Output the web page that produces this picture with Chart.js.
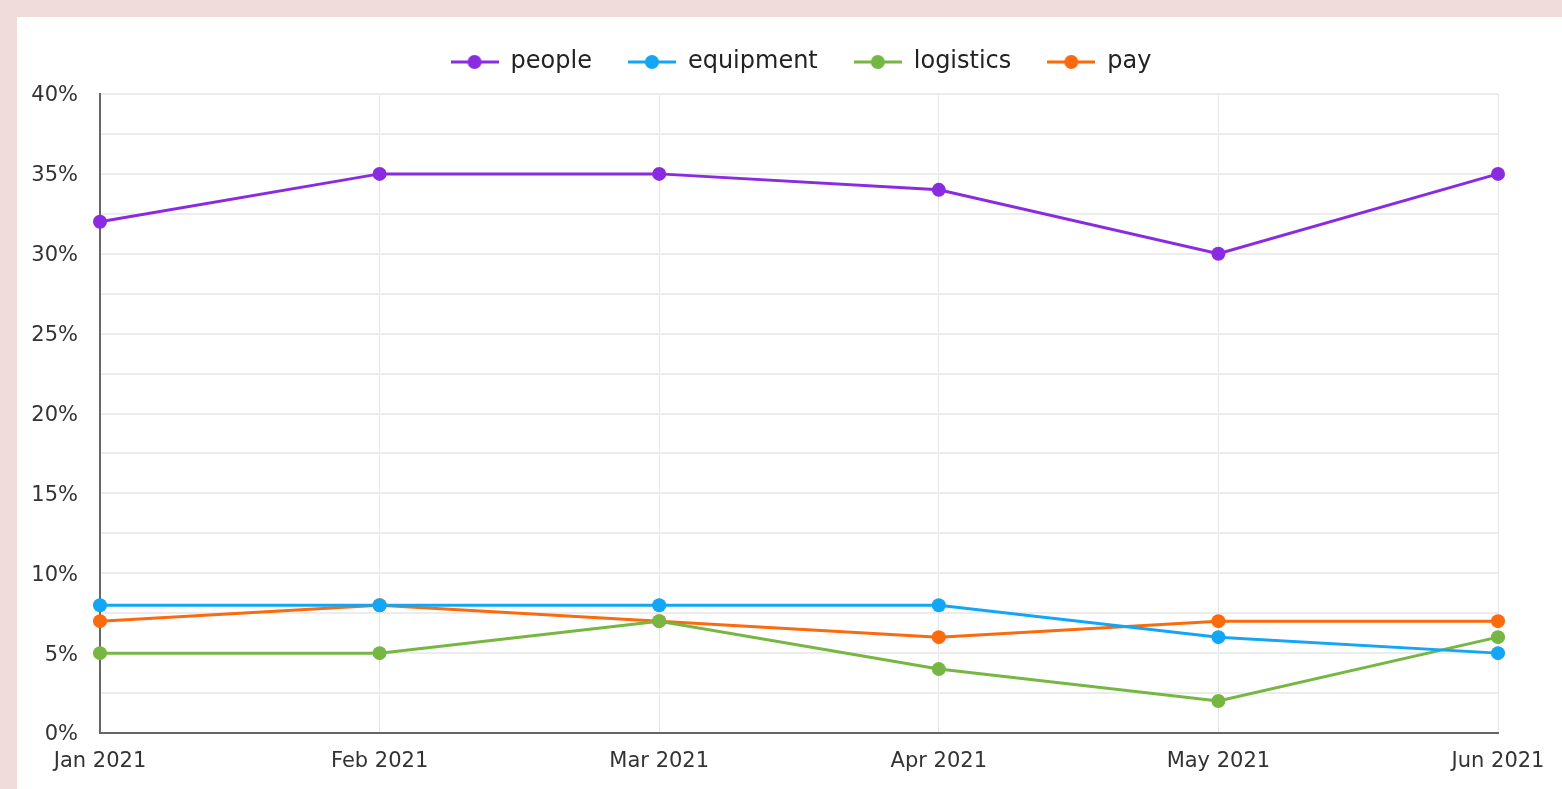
<!DOCTYPE html>
<html>
<head>
<meta charset="utf-8">
<script src="https://cdn.jsdelivr.net/npm/chart.js@4"></script>
<style>
  html, body { margin: 0; padding: 0; background: #f0dcd9; width: 1562px; height: 789px; overflow: hidden; }
  #card { position: absolute; left: 17px; top: 17px; width: 1545px; height: 772px; background: #fff; }
  #card canvas { display: block; }
</style>
</head>
<body>
<div id="card"><canvas id="trendChart" width="1545" height="772"></canvas></div>
<script>
const months = ['Jan 2021', 'Feb 2021', 'Mar 2021', 'Apr 2021', 'May 2021', 'Jun 2021'];
const people    = [32, 35, 35, 34, 30, 35];
const equipment = [8, 8, 8, 8, 6, 5];
const logistics = [5, 5, 7, 4, 2, 6];
const pay       = [7, 8, 7, 6, 7, 7];
const seriesNames  = ['people', 'equipment', 'logistics', 'pay'];
const seriesColors = ['#8a2be2', '#12a6f5', '#76b642', '#fb6a0c'];

// little line-with-dot marker for the legend
function legendMarker(color) {
  const c = document.createElement('canvas');
  c.width = 48; c.height = 16;
  const g = c.getContext('2d');
  g.strokeStyle = color;
  g.lineWidth = 3;
  g.beginPath(); g.moveTo(0, 8); g.lineTo(48, 8); g.stroke();
  g.fillStyle = color;
  g.beginPath(); g.arc(24, 8, 7, 0, Math.PI * 2); g.fill();
  return c;
}

const values = [people, equipment, logistics, pay];
const datasets = seriesNames.map((name, i) => ({
  label: name,
  data: values[i],
  borderColor: seriesColors[i],
  backgroundColor: seriesColors[i],
  borderWidth: 3,
  pointRadius: 7,
  pointHoverRadius: 7,
  pointBorderWidth: 0,
  pointStyle: 'circle',
  tension: 0,
  clip: false
}));

const legendMarkers = seriesColors.map(legendMarker);

// fixed legend height so the plot starts where the original does,
// and centre the legend over the whole card rather than the padded area
const legendPlacement = {
  id: 'legendPlacement',
  beforeInit(chart) {
    const fit = chart.legend.fit;
    chart.legend.fit = function () {
      fit.call(this);
      this.height = 73;
    };
  },
  afterLayout(chart) {
    const lg = chart.legend;
    lg.left = 23;
    lg.right = chart.width;
    lg.width = lg.right - lg.left;
    lg.top -= 7;
  }
};

const FONT = "'DejaVu Sans', sans-serif";

new Chart(document.getElementById('trendChart').getContext('2d'), {
  type: 'line',
  data: { labels: months, datasets: datasets },
  options: {
    responsive: false,
    animation: false,
    layout: { padding: { top: 4, left: 0, right: 64, bottom: 0 } },
    plugins: {
      tooltip: { enabled: false },
      legend: {
        position: 'top',
        labels: {
          usePointStyle: true,
          pointStyleWidth: 48,
          boxHeight: 16,
          padding: 36,
          color: '#222',
          font: { family: FONT, size: 24 },
          generateLabels(chart) {
            return chart.data.datasets.map((ds, i) => ({
              text: ds.label,
              pointStyle: legendMarkers[i],
              fillStyle: ds.borderColor,
              strokeStyle: ds.borderColor,
              lineWidth: 0,
              hidden: false,
              datasetIndex: i,
              fontColor: '#222'
            }));
          }
        }
      }
    },
    scales: {
      x: {
        offset: false,
        grid: { color: '#e6e6e6', lineWidth: 1, drawTicks: false },
        border: { color: '#666', width: 2 },
        ticks: { color: '#333', padding: 16, maxRotation: 0, font: { family: FONT, size: 21 } },
        afterFit(scale) { scale.height = 56; }
      },
      y: {
        min: 0,
        max: 40,
        grid: { color: '#ececec', lineWidth: 2, drawTicks: false },
        border: { color: '#666', width: 2 },
        ticks: {
          stepSize: 2.5,
          padding: 22,
          labelOffset: 2,
          color: '#333',
          font: { family: FONT, size: 21 },
          callback: v => (v % 5 === 0 ? v + '%' : '')
        },
        afterFit(scale) { scale.width = 83; }
      }
    }
  },
  plugins: [legendPlacement]
});
</script>
</body>
</html>
